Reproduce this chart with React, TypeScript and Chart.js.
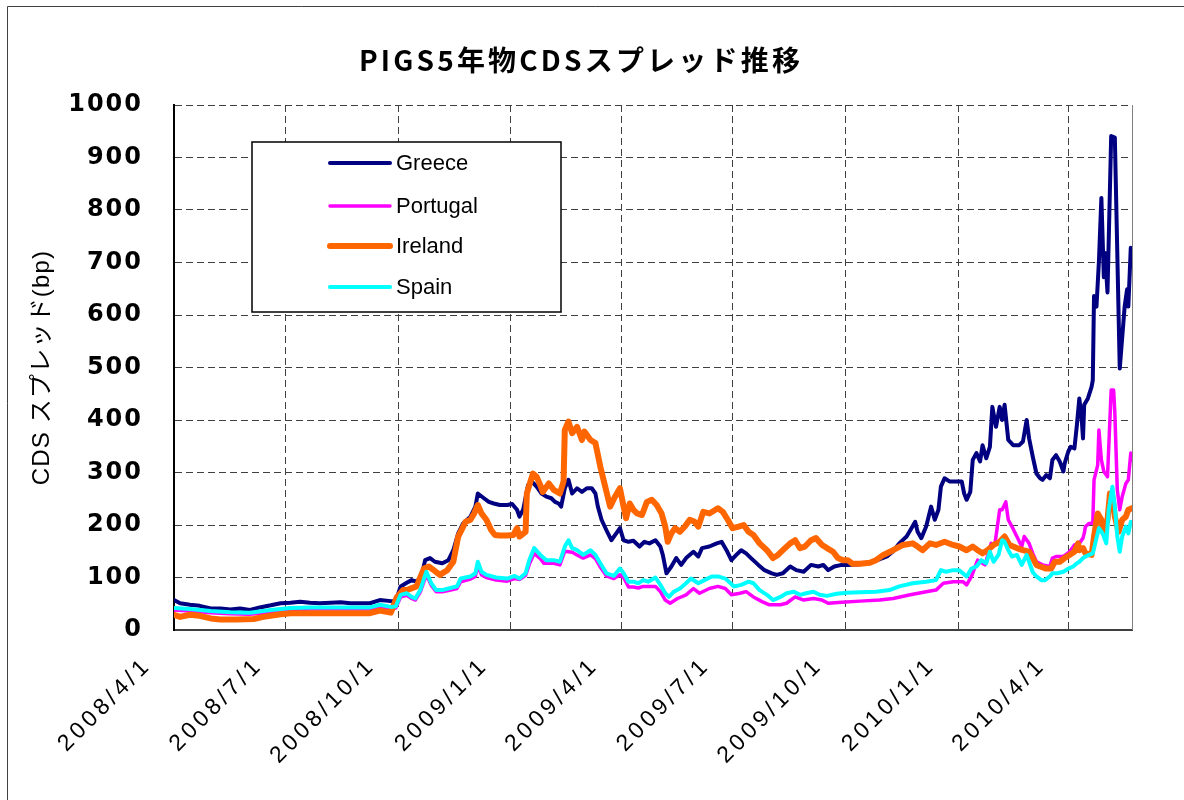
import React, { useEffect, useRef } from 'react';
import { Chart, registerables } from 'chart.js';

Chart.register(...registerables);

const chartTitle = 'PIGS5年物CDSスプレッド推移';
const yAxisTitle = 'CDS スプレッド(bp)';

// x axis: days elapsed since 2008/4/1
const xMaxDay = 782;
const xTickDays = [0, 91, 183, 275, 365, 456, 548, 640, 730];
const xTickLabels = ['2008/4/1', '2008/7/1', '2008/10/1', '2009/1/1', '2009/4/1', '2009/7/1', '2009/10/1', '2010/1/1', '2010/4/1'];

const seriesNames = ['Greece', 'Portugal', 'Ireland', 'Spain'];
const seriesColors = ['#000080', '#FF00FF', '#FF6600', '#00FFFF'];

const greeceDays = [0, 5, 13, 21, 30, 38, 46, 54, 62, 70, 79, 87, 95, 103, 111, 119, 128, 136, 144, 152, 160, 168, 177, 181, 185, 190, 194, 198, 202, 205, 209, 213, 219, 224, 228, 232, 236, 242, 246, 248, 253, 257, 261, 266, 272, 276, 280, 282, 285, 289, 292, 296, 300, 304, 308, 311, 314, 316, 319, 322, 325, 329, 333, 337, 341, 344, 346, 349, 353, 357, 361, 364, 367, 371, 375, 380, 384, 388, 393, 397, 399, 402, 406, 410, 414, 418, 424, 428, 431, 437, 443, 447, 451, 455, 459, 463, 467, 471, 477, 482, 488, 492, 497, 503, 508, 514, 520, 526, 530, 534, 539, 545, 550, 560, 571, 582, 587, 592, 598, 602, 605, 607, 610, 614, 618, 621, 624, 626, 629, 633, 639, 643, 645, 647, 650, 652, 655, 658, 660, 663, 666, 668, 671, 674, 676, 678, 681, 685, 690, 693, 696, 698, 701, 704, 707, 709, 712, 715, 717, 720, 723, 726, 727, 730, 732, 735, 737, 739, 741, 742, 743, 746, 749, 750, 751, 753, 755, 757, 759, 760, 762, 765, 768, 772, 776, 778, 779, 781, 782];
const greeceValues = [57, 51, 48, 46, 41, 41, 39, 41, 38, 43, 47, 51, 52, 54, 52, 51, 52, 53, 51, 51, 51, 57, 55, 55, 83, 90, 95, 92, 102, 133, 137, 130, 127, 133, 152, 184, 203, 216, 235, 260, 251, 244, 241, 238, 238, 240, 229, 216, 229, 276, 283, 273, 260, 254, 251, 244, 241, 235, 270, 286, 260, 270, 263, 270, 270, 260, 235, 210, 190, 171, 184, 194, 171, 168, 170, 159, 168, 165, 171, 159, 143, 108, 121, 137, 124, 137, 149, 140, 156, 159, 165, 168, 152, 133, 143, 152, 146, 137, 124, 114, 108, 105, 108, 121, 114, 111, 124, 121, 124, 114, 121, 124, 124, 125, 130, 140, 150, 165, 178, 194, 206, 187, 175, 197, 235, 210, 229, 273, 289, 283, 283, 283, 260, 248, 263, 324, 337, 321, 352, 327, 349, 425, 387, 425, 400, 429, 362, 352, 352, 359, 400, 365, 330, 298, 289, 286, 295, 289, 324, 333, 321, 302, 317, 340, 349, 346, 390, 441, 400, 365, 429, 441, 463, 476, 636, 616, 702, 823, 672, 718, 643, 941, 938, 498, 616, 649, 616, 728, 718];

const portugalDays = [0, 13, 30, 46, 62, 79, 95, 111, 128, 144, 160, 168, 177, 181, 185, 190, 194, 197, 201, 206, 210, 214, 219, 224, 231, 234, 242, 246, 248, 251, 255, 263, 272, 278, 282, 287, 290, 294, 299, 302, 310, 315, 319, 322, 325, 329, 334, 340, 344, 348, 353, 359, 364, 367, 371, 375, 379, 383, 386, 393, 397, 401, 405, 411, 418, 424, 429, 437, 444, 450, 455, 462, 467, 473, 480, 486, 495, 500, 507, 514, 522, 529, 534, 545, 560, 576, 587, 601, 614, 622, 628, 636, 644, 647, 651, 656, 662, 667, 670, 674, 676, 679, 681, 684, 688, 692, 694, 698, 701, 704, 709, 715, 717, 720, 726, 731, 735, 739, 742, 743, 744, 747, 750, 751, 754, 755, 757, 759, 762, 765, 767, 768, 770, 772, 774, 777, 779, 781, 782];
const portugalValues = [38, 36, 33, 31, 30, 34, 38, 40, 40, 40, 40, 44, 41, 42, 63, 66, 60, 57, 72, 105, 85, 73, 73, 75, 79, 92, 97, 102, 122, 105, 100, 95, 93, 98, 96, 104, 125, 146, 136, 127, 127, 124, 150, 149, 148, 143, 137, 143, 136, 120, 103, 98, 105, 100, 82, 82, 80, 83, 83, 83, 73, 57, 51, 60, 67, 79, 70, 79, 83, 79, 67, 70, 73, 63, 54, 48, 48, 51, 63, 57, 60, 57, 51, 53, 55, 57, 60, 67, 73, 76, 89, 92, 92, 86, 102, 133, 124, 165, 162, 229, 229, 244, 210, 197, 178, 159, 178, 165, 146, 130, 124, 121, 137, 140, 140, 149, 162, 165, 175, 184, 197, 203, 204, 286, 314, 381, 324, 302, 292, 457, 457, 413, 267, 229, 254, 279, 286, 337, 324];

const irelandDays = [0, 5, 13, 21, 30, 38, 51, 65, 73, 87, 95, 119, 160, 168, 177, 182, 187, 190, 198, 204, 208, 212, 217, 223, 228, 232, 238, 242, 245, 248, 251, 255, 259, 262, 266, 272, 277, 280, 282, 287, 288, 291, 293, 296, 299, 301, 306, 310, 315, 318, 319, 322, 325, 329, 333, 335, 340, 344, 348, 352, 356, 360, 364, 367, 369, 372, 375, 378, 382, 386, 390, 394, 398, 401, 403, 406, 409, 413, 417, 421, 425, 428, 432, 437, 442, 444, 448, 452, 456, 461, 465, 469, 473, 478, 484, 489, 493, 497, 503, 507, 511, 515, 520, 524, 529, 533, 538, 542, 546, 550, 554, 560, 568, 573, 579, 587, 595, 603, 607, 611, 617, 622, 629, 636, 641, 647, 652, 656, 660, 664, 669, 674, 678, 682, 688, 693, 698, 701, 704, 707, 712, 716, 719, 723, 727, 731, 735, 738, 739, 742, 744, 749, 751, 754, 757, 759, 762, 764, 766, 768, 771, 774, 777, 779, 782];
const irelandValues = [29, 25, 29, 27, 22, 20, 20, 21, 25, 30, 32, 32, 32, 37, 33, 63, 76, 76, 83, 117, 121, 114, 105, 114, 130, 178, 206, 210, 222, 238, 222, 210, 190, 181, 180, 180, 181, 194, 178, 187, 260, 283, 298, 292, 276, 263, 279, 267, 260, 283, 381, 397, 375, 387, 362, 378, 362, 356, 311, 273, 235, 254, 270, 235, 213, 241, 229, 222, 219, 244, 248, 238, 222, 197, 168, 184, 194, 187, 197, 210, 206, 197, 225, 222, 229, 232, 225, 210, 194, 197, 200, 187, 181, 165, 152, 137, 143, 152, 165, 171, 156, 159, 171, 175, 162, 156, 149, 137, 133, 133, 126, 126, 128, 133, 143, 152, 162, 165, 159, 152, 165, 162, 168, 162, 159, 152, 159, 152, 146, 152, 162, 168, 178, 162, 156, 152, 149, 137, 124, 121, 117, 117, 130, 130, 137, 143, 149, 165, 152, 156, 146, 143, 178, 222, 210, 184, 210, 260, 254, 216, 187, 210, 216, 229, 232];

const spainDays = [0, 13, 30, 46, 62, 79, 95, 111, 128, 144, 160, 168, 177, 181, 185, 190, 194, 197, 201, 206, 210, 214, 219, 224, 231, 234, 242, 246, 248, 251, 255, 263, 272, 278, 282, 287, 290, 294, 299, 304, 310, 315, 319, 322, 325, 329, 334, 340, 344, 348, 353, 359, 364, 367, 371, 375, 379, 383, 387, 393, 397, 401, 404, 408, 413, 418, 422, 428, 433, 439, 444, 450, 453, 457, 463, 469, 473, 478, 484, 489, 495, 500, 506, 511, 516, 522, 527, 533, 541, 549, 560, 573, 584, 592, 603, 614, 622, 626, 630, 636, 641, 647, 651, 655, 659, 663, 666, 669, 673, 676, 678, 681, 684, 688, 692, 696, 698, 701, 704, 708, 711, 715, 717, 721, 726, 730, 734, 737, 739, 742, 744, 747, 750, 753, 755, 758, 761, 763, 766, 768, 770, 772, 774, 777, 779, 781, 782];
const spainValues = [42, 40, 36, 34, 33, 38, 42, 43, 43, 43, 43, 48, 44, 45, 67, 70, 63, 60, 76, 111, 89, 76, 76, 79, 83, 98, 102, 108, 130, 111, 105, 100, 98, 103, 98, 108, 133, 156, 143, 133, 133, 130, 159, 171, 156, 152, 143, 152, 143, 127, 108, 103, 117, 108, 92, 92, 89, 95, 92, 100, 86, 70, 63, 73, 79, 89, 98, 89, 95, 102, 102, 98, 92, 83, 86, 92, 89, 76, 67, 57, 63, 70, 73, 67, 70, 73, 67, 65, 69, 71, 72, 73, 76, 83, 89, 92, 95, 114, 111, 114, 114, 102, 117, 121, 133, 127, 149, 130, 143, 171, 168, 152, 140, 143, 124, 143, 130, 110, 102, 95, 95, 102, 108, 108, 111, 117, 121, 127, 130, 137, 140, 143, 146, 175, 194, 184, 165, 229, 273, 235, 178, 149, 178, 197, 184, 206, 205];

const seriesDays = [greeceDays, portugalDays, irelandDays, spainDays];
const seriesValues = [greeceValues, portugalValues, irelandValues, spainValues];
const seriesWidths = [4, 3.5, 6, 4];
const seriesOrder = [4, 3, 2, 1];

const FONT_LATIN = "'Liberation Sans', 'Noto Sans CJK JP', sans-serif";

function patchSpacing(scale: any, labelSpacing: string, titleSpacing: string) {
  if (!scale || scale.__spaced) return;
  scale.__spaced = true;
  const origLabels = scale.drawLabels.bind(scale);
  const origTitle = scale.drawTitle.bind(scale);
  scale.drawLabels = (area: any) => {
    const c = scale.ctx;
    c.save();
    c.letterSpacing = labelSpacing;
    origLabels(area);
    c.restore();
  };
  scale.drawTitle = (area: any) => {
    const c = scale.ctx;
    c.save();
    c.letterSpacing = titleSpacing;
    origTitle(area);
    c.restore();
  };
}

const decorPlugin = {
  id: 'decor',
  beforeDraw(chart: any) {
    const ctx = chart.ctx;
    patchSpacing(chart.scales.x, '4px', '0px');
    patchSpacing(chart.scales.y, '2px', '1.2px');
    ctx.save();
    ctx.fillStyle = '#ffffff';
    ctx.fillRect(0, 0, chart.width, chart.height);
    // outer frame
    ctx.strokeStyle = '#404040';
    ctx.lineWidth = 1;
    ctx.beginPath();
    ctx.moveTo(7.5, chart.height);
    ctx.lineTo(7.5, 6.5);
    ctx.lineTo(chart.width, 6.5);
    ctx.stroke();
    // title
    ctx.fillStyle = '#000000';
    ctx.font = "bold 28px 'Noto Sans CJK JP', sans-serif";
    ctx.letterSpacing = '3.2px';
    ctx.textAlign = 'center';
    ctx.textBaseline = 'middle';
    ctx.fillText(chartTitle, 581, 60);
    ctx.restore();
  },
  afterDraw(chart: any) {
    const ctx = chart.ctx;
    const area = chart.chartArea;
    ctx.save();
    // right border of plot area
    ctx.strokeStyle = '#808080';
    ctx.lineWidth = 1;
    ctx.beginPath();
    ctx.moveTo(Math.round(area.right) + 0.5, area.top);
    ctx.lineTo(Math.round(area.right) + 0.5, area.bottom);
    ctx.stroke();
    // legend box
    const bx = 252, by = 142, bw = 309, bh = 170;
    ctx.fillStyle = '#ffffff';
    ctx.fillRect(bx, by, bw, bh);
    ctx.strokeStyle = '#000000';
    ctx.lineWidth = 1.5;
    ctx.strokeRect(bx, by, bw, bh);
    const rowsY = [163, 206, 246, 287];
    ctx.font = `22px ${FONT_LATIN}`;
    ctx.textAlign = 'left';
    ctx.textBaseline = 'middle';
    chart.data.datasets.forEach((ds: any, i: number) => {
      const y = rowsY[i];
      ctx.strokeStyle = ds.borderColor;
      ctx.lineWidth = ds.borderWidth;
      ctx.lineCap = 'round';
      ctx.beginPath();
      ctx.moveTo(330, y);
      ctx.lineTo(390, y);
      ctx.stroke();
      ctx.fillStyle = '#000000';
      ctx.fillText(ds.label, 396, y + 1);
    });
    ctx.restore();
  },
};

export default function App() {
  const canvasRef = useRef<HTMLCanvasElement | null>(null);

  useEffect(() => {
    const canvas = canvasRef.current;
    if (!canvas) return;
    Chart.defaults.font.family = FONT_LATIN;

    const datasets = seriesNames.map((name, i) => ({
      label: name,
      data: seriesDays[i].map((d, j) => ({ x: d, y: seriesValues[i][j] })),
      borderColor: seriesColors[i],
      backgroundColor: seriesColors[i],
      borderWidth: seriesWidths[i],
      order: seriesOrder[i],
      pointRadius: 0,
      tension: 0,
      fill: false,
      borderJoinStyle: 'round' as const,
      borderCapStyle: 'round' as const,
    }));

    const chart = new Chart(canvas, {
      type: 'line',
      data: { datasets },
      plugins: [decorPlugin],
      options: {
        responsive: false,
        animation: false,
        events: [],
        layout: { padding: { top: 105, right: 52, bottom: 0, left: 0 } },
        plugins: {
          legend: { display: false },
          title: { display: false },
          tooltip: { enabled: false },
        },
        scales: {
          x: {
            type: 'linear',
            min: 0,
            max: xMaxDay,
            afterBuildTicks: (scale: any) => {
              scale.ticks = xTickDays.map((v) => ({ value: v }));
            },
            afterFit: (scale: any) => {
              scale.height = 170;
            },
            ticks: {
              autoSkip: false,
              minRotation: 45,
              maxRotation: 45,
              padding: 22,
              labelOffset: -26,
              color: '#000000',
              font: { family: FONT_LATIN, size: 23 },
              callback: (value: any) => {
                const idx = xTickDays.indexOf(Number(value));
                return idx >= 0 ? xTickLabels[idx] : '';
              },
            },
            grid: { color: '#404040', lineWidth: 1, drawTicks: false },
            border: { display: true, color: '#404040', width: 2, dash: [7, 4] },
          },
          y: {
            type: 'linear',
            min: 0,
            max: 1000,
            afterFit: (scale: any) => {
              scale.width = 174;
            },
            ticks: {
              stepSize: 100,
              padding: 31,
              color: '#000000',
              font: { family: "'DejaVu Sans', sans-serif", size: 24, weight: 'bold' },
              callback: (value: any) => String(value),
            },
            grid: { color: '#404040', lineWidth: 1, drawTicks: false },
            border: { display: true, color: '#000000', width: 2, dash: [7, 4] },
            title: {
              display: true,
              text: yAxisTitle,
              color: '#000000',
              font: { family: FONT_LATIN, size: 24 },
              padding: { top: 28, bottom: 0 },
            },
          },
        },
      },
    } as any);

    return () => {
      chart.destroy();
    };
  }, []);

  return (
    <div style={{ position: 'absolute', left: 0, top: 0, width: 1184, height: 800, background: '#fff' }}>
      <canvas ref={canvasRef} width={1184} height={800} style={{ display: 'block', width: 1184, height: 800 }} />
    </div>
  );
}
